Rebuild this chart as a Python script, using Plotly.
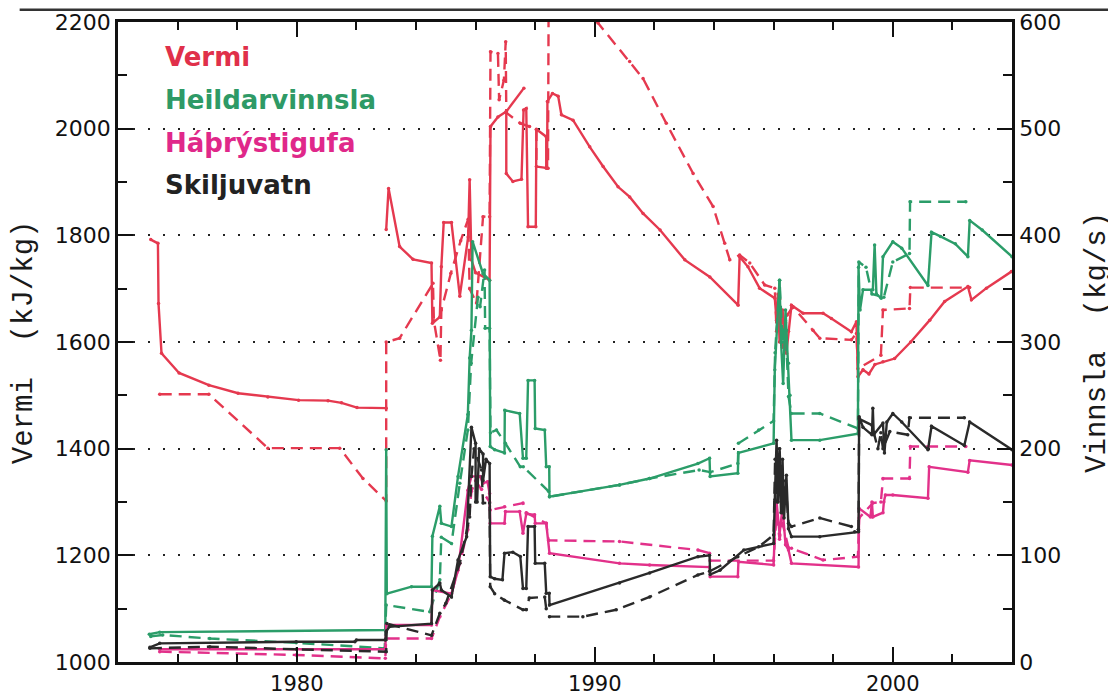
import plotly.graph_objects as go

# ---------------- data (years, values) ----------------
# Vermi (kJ/kg), left axis
vermi_solid_year = [1975.10, 1975.34, 1975.36, 1975.46, 1976.05, 1977.05, 1978.03, 1979.03, 1980.06, 1981.05, 1981.50, 1982.02, 1983.00, None,
                    1983.00, 1983.08, 1983.45, 1983.90, 1984.52, 1984.55, 1984.80, 1984.85, 1984.93, 1985.19, 1985.47, 1985.75, 1985.80, 1985.86,
                    1986.00, 1986.47, 1986.50, 1986.75, 1987.03, 1987.03, 1987.25, 1987.54, 1987.61, 1987.70, 1987.76, 1988.02, 1988.04, 1988.37,
                    1988.37, 1988.40, 1988.41, 1988.58, 1988.77, 1988.88, 1989.27, 1989.83, 1990.28, 1990.78, 1991.17, 1991.62, 1992.19, 1993.02,
                    1993.86, 1994.81, 1994.86, 1995.14, 1995.53, 1996.04, 1996.10, 1996.15, 1996.20, 1996.30, 1996.43, 1996.50, 1996.60, 1996.99,
                    1997.66, 1997.94, 1998.61, 1998.78, 1998.83, 1999.00, 1999.20, 1999.40, 1999.67, 2000.06, 2000.60, 2001.24, 2001.74, 2002.52,
                    2002.64, 2003.14, 2003.98, None, 1987.03, 1987.62]
vermi_solid_val = [1792, 1785, 1672, 1579, 1542, 1519, 1504, 1497, 1491, 1490, 1486, 1477, 1476, None,
                   1811, 1888, 1779, 1755, 1748, 1635, 1647, 1741, 1824, 1824, 1686, 1797, 1904, 1754,
                   1730, 1716, 2004, 2022, 2032, 1916, 1901, 1905, 2035, 2038, 1816, 1816, 1999, 1985,
                   1926, 1926, 2051, 2066, 2061, 2026, 2016, 1966, 1929, 1891, 1872, 1841, 1810, 1754,
                   1722, 1669, 1760, 1741, 1701, 1682, 1641, 1690, 1600, 1660, 1579, 1620, 1669, 1654,
                   1654, 1644, 1619, 1638, 1535, 1548, 1540, 1558, 1563, 1569, 1600, 1641, 1676, 1704,
                   1679, 1701, 1732, None, 2032, 2076]

vermi_dash_year = [1975.40, 1977.05, 1979.03, 1981.44, 1982.22, 1983.00, 1983.00, 1983.45, 1984.57, 1984.60, 1984.82, 1984.85, 1985.17,
                   1985.50, 1985.75, 1985.80, 1986.03, 1986.25, 1986.47, 1986.50, 1986.75, 1986.79, 1986.95, 1987.01, 1987.03, 1987.50,
                   1987.81, 1988.04, 1988.04, 1988.43, 1988.45, 1989.50, 1990.11, 1991.17, 1991.62, 1992.40, 1993.30, 1993.97, 1994.36,
                   1994.53, 1994.86, 1995.20, 1995.70, 1996.04, 1996.10, 1996.20, 1996.30, 1996.45, 1996.65, 1997.32, 1997.55, 1998.61,
                   1998.78, 1998.83, 1999.60, 1999.67, 2000.56, 2000.59, 2002.58]
vermi_dash_val = [1502, 1502, 1401, 1401, 1344, 1302, 1600, 1607, 1710, 1640, 1566, 1660, 1729,
                  1790, 1830, 1700, 1673, 1835, 1835, 2144, 2141, 2054, 2091, 2163, 2030, 2010,
                  2004, 1998, 1929, 1926, 2230, 2235, 2198, 2126, 2094, 2010, 1916, 1854, 1785,
                  1754, 1763, 1748, 1707, 1701, 1620, 1680, 1590, 1650, 1666, 1622, 1607, 1604,
                  1616, 1550, 1575, 1660, 1663, 1702, 1702]

# Heildarvinnsla (kg/s), right axis
heild_solid_year = [1975.05, 1975.40, 1982.97, 1983.00, 1983.02, 1983.85, 1984.52, 1984.55, 1984.80, 1984.85, 1985.19, 1985.41, 1985.74,
                    1985.80, 1985.86, 1985.90, 1986.25, 1986.47, 1986.49, 1986.64, 1986.97, 1986.98, 1987.48, 1987.59, 1987.70, 1987.76,
                    1987.98, 1988.00, 1988.32, 1988.37, 1988.47, 1988.48, 1990.83, 1991.84, 1993.46, 1993.85, 1993.87, 1994.80, 1994.82,
                    1996.00, 1996.04, 1996.20, 1996.25, 1996.32, 1996.40, 1996.43, 1996.50, 1996.55, 1996.60, 1997.55, 1998.83, 1998.85,
                    1998.90, 1999.00, 1999.33, 1999.39, 1999.45, 1999.61, 1999.67, 2000.00, 2000.30, 2001.18, 2001.30, 2001.60, 2002.10,
                    2002.52, 2002.58, 2003.00, 2004.00]
heild_solid_val = [26, 28, 30, 199, 64, 70.6, 70.6, 118, 146, 130, 127, 174, 232,
                   285, 311, 394, 364, 358, 202, 199, 196, 236, 233, 191, 191, 264,
                   264, 219, 217.5, 183, 183, 155, 166, 172, 186, 191, 174, 177, 196,
                   205, 274, 358, 300, 261, 330, 311, 280, 250, 208, 208, 214, 370,
                   330, 349, 349, 391, 345, 341, 380, 394, 388, 353, 403, 399, 392,
                   380, 414, 405, 380]

heild_dash_year = [1975.10, 1975.50, 1977.08, 1979.98, 1982.95, 1983.00, 1984.46, 1984.80, 1984.85, 1985.19, 1985.47, 1985.74, 1985.85,
                   1986.08, 1986.15, 1986.30, 1986.32, 1986.47, 1986.50, 1986.70, 1987.00, 1987.50, 1987.60, 1988.45, 1988.48, 1990.83,
                   1991.84, 1993.50, 1993.87, 1994.80, 1994.82, 1995.50, 1996.00, 1996.05, 1996.20, 1996.30, 1996.40, 1996.50, 1996.60,
                   1997.55, 1998.83, 1998.86, 1999.10, 1999.30, 1999.70, 2000.00, 2000.56, 2000.58, 2002.45]
heild_dash_val = [24, 25.3, 22, 18, 12.8, 53.4, 47, 77, 117, 111, 167.5, 217.5, 280,
                  342, 333, 367.5, 313, 313, 215, 217.5, 205, 183, 183, 160, 155, 166,
                  172, 180, 178, 186, 205, 217.5, 226, 290, 358, 300, 320, 249, 233,
                  233, 219, 375, 370, 345, 342, 375, 383, 431.5, 431.5]

# Háþrýstigufa (kg/s), right axis
hap_solid_year = [1975.40, 1982.97, 1983.00, 1984.52, 1984.55, 1985.19, 1985.41, 1985.74, 1985.86, 1986.15, 1986.25, 1986.40, 1986.47,
                  1986.49, 1986.97, 1987.00, 1987.48, 1987.59, 1987.70, 1987.98, 1988.00, 1988.37, 1988.48, 1990.83, 1991.84, 1993.85,
                  1993.87, 1994.80, 1994.82, 1996.00, 1996.05, 1996.10, 1996.20, 1996.30, 1996.40, 1996.50, 1996.60, 1998.85, 1998.87,
                  1999.25, 1999.30, 1999.33, 1999.67, 1999.70, 1999.75, 2000.00, 2001.18, 2001.22, 2002.52, 2002.58, 2004.00]
hap_solid_val = [12, 12, 34.7, 34.7, 67.5, 64, 86, 161, 174, 174, 167.5, 169, 158,
                 130, 130, 141, 141, 120.6, 139, 138, 130, 130, 102, 92.5, 91, 89,
                 80, 80, 94, 91, 130, 150, 120, 145, 110, 105, 92.5, 89, 144,
                 136, 150, 136, 140, 150, 156.5, 156.5, 153.5, 183, 178, 189, 184.7]

hap_dash_year = [1975.40, 1979.98, 1982.97, 1983.00, 1984.52, 1984.80, 1985.19, 1985.47, 1985.74, 1985.86, 1986.00, 1986.20, 1986.47,
                 1986.49, 1986.97, 1987.59, 1987.70, 1988.37, 1988.45, 1990.83, 1993.46, 1993.85, 1993.87, 1996.00, 1996.10, 1996.20,
                 1996.30, 1996.50, 1996.60, 1997.66, 1998.83, 1998.87, 1999.33, 1999.60, 1999.67, 2000.56, 2000.59, 2002.45]
hap_dash_val = [9.7, 6.6, 3.4, 22, 22, 42.5, 64, 92.5, 124, 160, 170, 162, 150,
                142.5, 145.6, 149, 140, 130, 114, 113, 105, 102, 95, 95, 140, 115,
                130, 107, 106.6, 95.6, 98.7, 135, 149, 150, 172, 172, 202, 202]

# Skiljuvatn (kg/s), right axis
skil_solid_year = [1975.07, 1975.40, 1979.98, 1981.95, 1982.00, 1982.97, 1983.00, 1983.10, 1984.52, 1984.55, 1984.80, 1984.85, 1985.19,
                   1985.41, 1985.70, 1985.86, 1986.00, 1986.00, 1986.05, 1986.12, 1986.25, 1986.25, 1986.35, 1986.47, 1986.49, 1986.64,
                   1986.90, 1986.97, 1987.25, 1987.50, 1987.59, 1987.70, 1987.76, 1987.98, 1988.00, 1988.32, 1988.37, 1988.47, 1988.48,
                   1990.83, 1991.84, 1993.46, 1993.85, 1993.87, 1994.20, 1995.00, 1996.00, 1996.04, 1996.10, 1996.15, 1996.20, 1996.25,
                   1996.30, 1996.35, 1996.43, 1996.50, 1996.60, 1997.55, 1998.72, 1998.85, 1998.87, 1999.00, 1999.30, 1999.33, 1999.36,
                   1999.67, 1999.72, 1999.80, 2000.00, 2000.30, 2001.18, 2001.30, 2002.40, 2002.58, 2004.00]
skil_solid_val = [13.8, 17.5, 19, 19, 20.6, 20.6, 28.4, 33, 36, 67.5, 74, 67.5, 61,
                  95.6, 117.5, 220, 205, 150, 150, 200, 195, 170, 190, 186, 80, 78,
                  77, 102, 103, 99, 69, 69, 127, 127, 92.5, 92.5, 64.4, 64.4, 53.4,
                  74, 83.5, 98.7, 100, 82, 86, 105, 111, 152, 208, 150, 200, 140,
                  190, 135, 175, 125, 117.5, 117.5, 122, 122, 230, 220, 213, 238, 213,
                  224, 196, 225, 233, 225, 199, 221, 203, 225, 199]

skil_dash_year = [1975.07, 1977.08, 1979.98, 1983.00, 1983.02, 1984.52, 1984.80, 1985.00, 1985.47, 1985.80, 1985.86, 1985.95, 1986.20,
                  1986.25, 1986.47, 1986.49, 1986.64, 1986.97, 1987.59, 1987.70, 1987.80, 1988.32, 1988.37, 1988.48, 1989.60, 1990.72,
                  1991.84, 1993.46, 1993.85, 1994.80, 1995.50, 1996.00, 1996.05, 1996.12, 1996.20, 1996.30, 1996.40, 1996.50, 1996.60,
                  1997.55, 1998.61, 1998.85, 1998.87, 1999.30, 1999.50, 1999.60, 1999.67, 1999.90, 2000.50, 2000.56, 2002.40]
skil_dash_val = [12.8, 14.4, 11.9, 9.7, 36, 25, 45.6, 55, 92.5, 136, 174, 200, 180,
                 149, 149, 70.6, 64, 58, 49, 49, 60, 61, 50, 42.5, 42.5, 49,
                 61, 81.6, 85, 98.7, 108, 119, 190, 150, 200, 140, 170, 130, 127,
                 135, 127, 124, 228, 222, 200, 215, 200, 216, 213, 229, 229]

legend_labels = ["Vermi", "Heildarvinnsla", "Háþrýstigufa", "Skiljuvatn"]
left_title = "Vermi\u00a0\u00a0(kJ/kg)"
right_title = "Vinnsla\u00a0\u00a0(kg/s)"

# ---------------- styles ----------------
RED = "#e5394f"
GREEN = "#2b9d69"
MAGENTA = "#e2318a"
BLACK = "#2a2a2a"
DASH = "12px,7px"

fig = go.Figure()

def add(xs, ys, color, dash, axis):
    fig.add_trace(go.Scatter(
        x=xs, y=ys, mode="lines+markers", yaxis=axis,
        line=dict(color=color, width=2.4, dash=dash),
        marker=dict(color=color, size=3.5),
        connectgaps=False, showlegend=False, hoverinfo="skip"))

add(heild_dash_year, heild_dash_val, GREEN, DASH, "y2")
add(heild_solid_year, heild_solid_val, GREEN, "solid", "y2")
add(hap_dash_year, hap_dash_val, MAGENTA, DASH, "y2")
add(hap_solid_year, hap_solid_val, MAGENTA, "solid", "y2")
add(skil_dash_year, skil_dash_val, BLACK, DASH, "y2")
add(skil_solid_year, skil_solid_val, BLACK, "solid", "y2")
add(vermi_dash_year, vermi_dash_val, RED, DASH, "y")
add(vermi_solid_year, vermi_solid_val, RED, "solid", "y")

tickfont = dict(family="DejaVu Sans", size=22, color="#111111")
xtickfont = dict(family="DejaVu Sans", size=21, color="#111111")

# The page puts the figure 8 px in from the top-left corner; the figure is sized to fill the window.
fig.update_layout(
    width=1108, height=689,
    margin=dict(l=110, r=104, t=14, b=35, autoexpand=False),
    paper_bgcolor="white", plot_bgcolor="white",
    xaxis=dict(range=[1974, 2004], showline=True, linecolor="#111", linewidth=2.5, mirror="ticks",
               ticks="inside", ticklen=15, tickwidth=2, tickcolor="#111",
               tickvals=[1980, 1990, 2000], ticktext=["1980", "1990", "2000"],
               minor=dict(tick0=1974, dtick=2, ticks="inside", ticklen=8, tickwidth=2, tickcolor="#111", showgrid=False),
               showgrid=False, zeroline=False, tickfont=xtickfont, ticklabelstandoff=1, automargin=False),
    yaxis=dict(range=[1000, 2200], showline=True, linecolor="#111", linewidth=2.5, mirror=False,
               ticks="inside", ticklen=15, tickwidth=2, tickcolor="#111", dtick=200, tick0=1000,
               minor=dict(dtick=100, ticks="inside", ticklen=9, tickwidth=2, tickcolor="#111", showgrid=False),
               showgrid=True, gridcolor="#222", gridwidth=2, griddash="2px,13px",
               zeroline=False, tickfont=tickfont, automargin=False),
    yaxis2=dict(range=[0, 600], overlaying="y", side="right", showline=True, linecolor="#111", linewidth=2.5,
                ticks="inside", ticklen=15, tickwidth=2, tickcolor="#111", dtick=100, tick0=0,
                minor=dict(dtick=50, ticks="inside", ticklen=9, tickwidth=2, tickcolor="#111", showgrid=False),
                showgrid=False, zeroline=False, tickfont=tickfont, automargin=False),
)

legend_colors = ["#e0304a", "#2e9a66", "#e0288a", "#222222"]
legend_y = [0.945, 0.878, 0.811, 0.745]
for lab, col, yy in zip(legend_labels, legend_colors, legend_y):
    fig.add_annotation(x=0.05, y=yy, xref="paper", yref="paper", text=f"<b>{lab}</b>",
                       showarrow=False, xanchor="left", yanchor="middle",
                       font=dict(family="DejaVu Sans", size=26, color=col))

fig.add_annotation(x=-0.105, y=0.5, xref="paper", yref="paper", text=left_title, textangle=-90,
                   showarrow=False, xanchor="center", yanchor="middle",
                   font=dict(family="Liberation Mono", size=29, color="#1a1a1a"))
fig.add_annotation(x=1.095, y=0.5, xref="paper", yref="paper", text=right_title, textangle=-90,
                   showarrow=False, xanchor="center", yanchor="middle",
                   font=dict(family="Liberation Mono", size=29, color="#1a1a1a"))

# scan edge line at the top of the page
fig.add_shape(type="line", xref="paper", yref="paper", x0=-0.11, x1=1.12, y0=1.019, y1=1.019,
              line=dict(color="#333", width=2.5))

fig.write_html("out.html")
